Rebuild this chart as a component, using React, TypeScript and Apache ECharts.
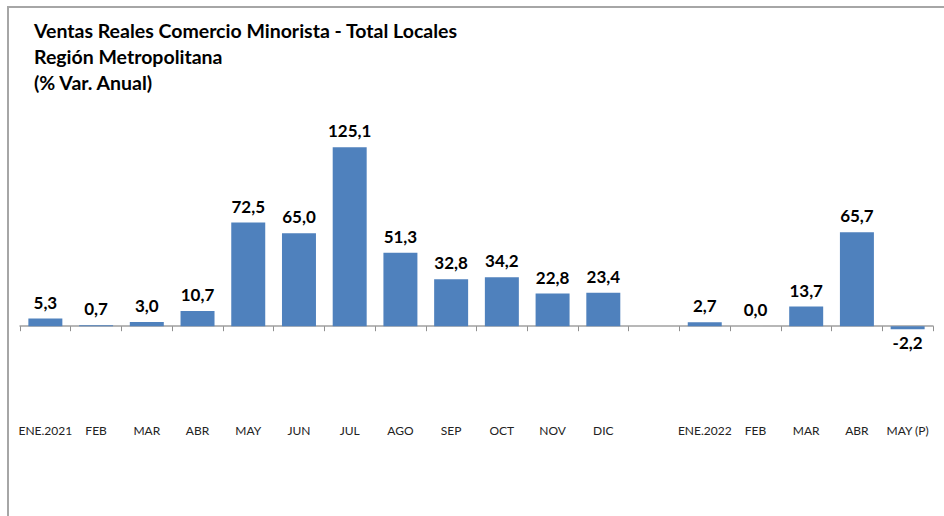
import React, { useEffect, useRef } from "react";
import * as echarts from "echarts";

const titleLines = [
  "Ventas Reales Comercio Minorista - Total Locales",
  "Región Metropolitana",
  "(% Var. Anual)",
];
const categories = [
  "ENE.2021", "FEB", "MAR", "ABR", "MAY", "JUN", "JUL", "AGO", "SEP", "OCT", "NOV", "DIC",
  "",
  "ENE.2022", "FEB", "MAR", "ABR", "MAY (P)",
];
const values: (number | null)[] = [
  5.3, 0.7, 3.0, 10.7, 72.5, 65.0, 125.1, 51.3, 32.8, 34.2, 22.8, 23.4,
  null,
  2.7, 0.0, 13.7, 65.7, -2.2,
];

const FONT = "Lato, 'Open Sans', sans-serif";

export default function App() {
  const ref = useRef<HTMLDivElement>(null);
  useEffect(() => {
    document.body.style.margin = "0";
    const chart = echarts.init(ref.current!, null, { renderer: "svg" });
    const data = values.map((v) =>
      v === null
        ? "-"
        : v < 0
        ? { value: v, label: { position: "bottom", distance: 5 } }
        : v
    );
    chart.setOption({
      animation: false,
      backgroundColor: "#ffffff",
      title: {
        text: titleLines.join("\n"),
        left: 29,
        top: 12,
        textStyle: {
          fontFamily: FONT,
          fontSize: 19.5,
          fontWeight: "bold",
          color: "#000000",
          lineHeight: 26,
        },
      },
      graphic: [
        {
          type: "rect",
          shape: { x: 8, y: 7, width: 960, height: 540 },
          style: { fill: "none", stroke: "#a6a6a6", lineWidth: 2 },
          silent: true,
        },
      ],
      grid: {
        left: 20,
        right: 11,
        top: 126,
        bottom: 104,
        containLabel: false,
        outerBoundsMode: "none",
      },
      xAxis: {
        type: "category",
        data: categories,
        axisLine: { onZero: true, lineStyle: { color: "#a0a0a0", width: 1.5 } },
        axisTick: { show: true, length: 5, inside: false, lineStyle: { color: "#909090" } },
        axisLabel: {
          margin: 12,
          interval: 0,
          fontFamily: FONT,
          fontSize: 12,
          color: "#222222",
        },
      },
      yAxis: {
        type: "value",
        min: -60,
        max: 140,
        show: false,
        splitLine: { show: false },
      },
      series: [
        {
          type: "bar",
          data,
          barCategoryGap: "33%",
          itemStyle: { color: "#4f81bd" },
          label: {
            show: true,
            position: "top",
            distance: 8,
            fontFamily: FONT,
            fontSize: 17,
            fontWeight: "bold",
            color: "#000000",
            formatter: (p: any) =>
              typeof p.value === "number" ? p.value.toFixed(1).replace(".", ",") : "",
          },
        },
      ],
    });
    return () => chart.dispose();
  }, []);
  return <div ref={ref} style={{ width: 944, height: 516 }} />;
}
